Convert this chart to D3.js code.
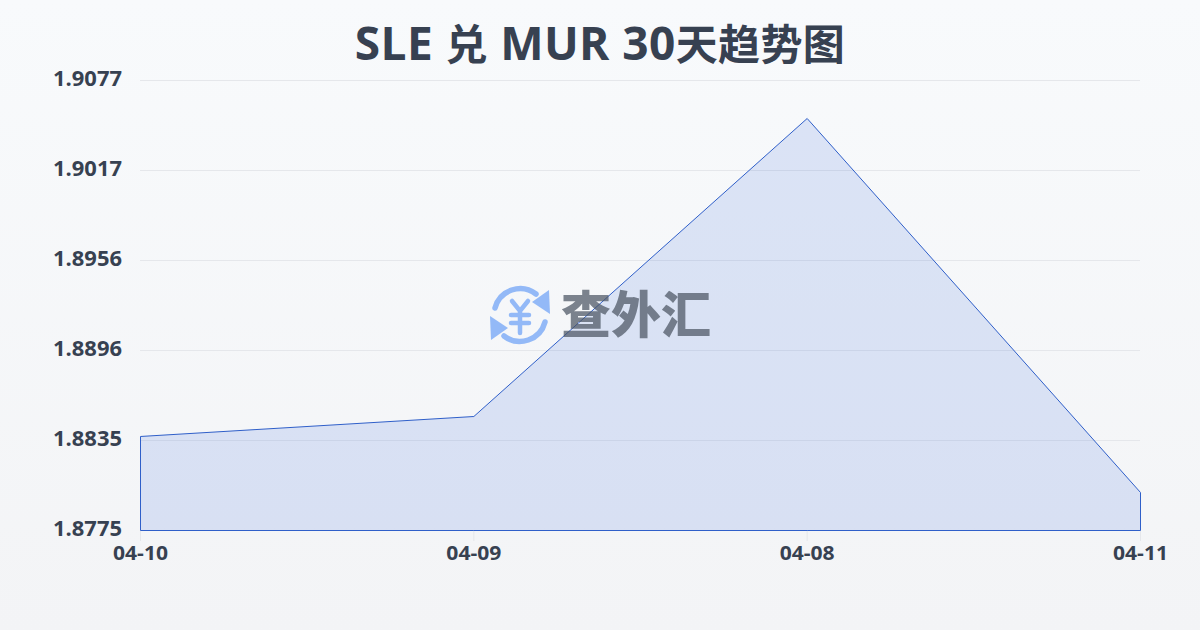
<!DOCTYPE html>
<html><head><meta charset="utf-8">
<script src="https://cdn.jsdelivr.net/npm/d3@7/dist/d3.min.js"></script>
<style>html,body{margin:0;padding:0;width:1200px;height:630px;overflow:hidden}</style>
</head><body><div id="chart"></div>
<script>
const titleParts = [["SLE ",46],["兑",42],[" MUR 30",46],["天趋势图",42]];
const categories = ["04-10","04-09","04-08","04-11"];
const values = [1.88381,1.88515,1.90515,1.88005];
const yTicks = [1.8775,1.8835,1.8896,1.8956,1.9017,1.9077];
const yTickLevels = [1.8775,1.88354,1.88958,1.89562,1.90166,1.9077];
const FONT = '"Open Sans","Noto Sans CJK SC",sans-serif';
const svg = d3.select("#chart").append("svg").attr("width",1200).attr("height",630).style("display","block");
const defs = svg.append("defs");
const bg = defs.append("linearGradient").attr("id","bg").attr("x1",0).attr("y1",0).attr("x2",0).attr("y2",1);
bg.append("stop").attr("offset",0).attr("stop-color","#f8fafc");
bg.append("stop").attr("offset",1).attr("stop-color","#f3f4f6");
svg.append("rect").attr("width",1200).attr("height",630).attr("fill","url(#bg)");
const x = d3.scalePoint().domain(categories).range([140.5,1140.5]);
const y = d3.scaleLinear().domain([1.8775,1.9077]).range([530.5,80.5]);
const title = svg.append("text").attr("x",600).attr("y",60).attr("text-anchor","middle")
  .attr("font-family",FONT).attr("font-weight",700).attr("fill","#374151").attr("letter-spacing",0.4).style("white-space","pre");
title.selectAll("tspan").data(titleParts).join("tspan").attr("font-size",d=>d[1]).text(d=>d[0]);
svg.append("g").selectAll("line").data(yTickLevels).join("line")
  .attr("x1",140).attr("x2",1140).attr("y1",d=>Math.round(y(d)-.5)+.5).attr("y2",d=>Math.round(y(d)-.5)+.5)
  .attr("stroke","#e5e7eb").attr("stroke-width",1);
const area = d3.area().x((d,i)=>x(categories[i])).y0(y(1.8775)).y1(d=>y(d));
svg.append("path").datum(values).attr("d",area).attr("fill","#1f55dc").attr("fill-opacity",0.13)
  .attr("stroke","#2f5fc9").attr("stroke-width",1);
svg.append("g").selectAll("text").data(yTicks).join("text")
  .attr("x",122).attr("y",(d,i)=>y(yTickLevels[i])+5.5).attr("text-anchor","end")
  .attr("font-family",FONT).attr("font-weight",700).attr("font-size",21.5).attr("fill","#374151")
  .attr("textLength",69).attr("lengthAdjust","spacingAndGlyphs").text(d=>d3.format(".4f")(d));
const xg = svg.append("g");
xg.selectAll("line").data(categories).join("line").attr("x1",d=>x(d)).attr("x2",d=>x(d)).attr("y1",531).attr("y2",541).attr("stroke","#e5e7eb");
xg.selectAll("text").data(categories).join("text").attr("x",d=>x(d)).attr("y",560).attr("text-anchor","middle")
  .attr("font-family",FONT).attr("font-weight",700).attr("font-size",19).attr("fill","#374151")
  .attr("textLength",55).attr("lengthAdjust","spacingAndGlyphs").text(d=>d);
// watermark
const wm = svg.append("g");
const logo = wm.append("g").attr("transform","translate(520,315)").attr("fill","none").attr("stroke","#93b9f7").attr("stroke-linecap","round");
logo.append("path").attr("stroke-width",5.5).attr("d","M-25,-7 A26,26 0 0 1 16,-21");
logo.append("path").attr("stroke-width",5.5).attr("d","M25,7 A26,26 0 0 1 -16,21");
logo.append("path").attr("fill","#93b9f7").attr("stroke","none").attr("d","M12,-13 L29,-25 L30,-1 Z");
logo.append("path").attr("fill","#93b9f7").attr("stroke","none").attr("d","M-12,13 L-29,25 L-30,1 Z");
logo.append("path").attr("stroke-width",4.5).attr("d","M-8,-14 L0,-4 L8,-14 M0,-4 V18 M-9,0 H9 M-9,8 H9");
wm.append("text").attr("x",636).attr("y",333).attr("text-anchor","middle").attr("font-family",'"Noto Sans CJK SC",sans-serif')
  .attr("font-weight",900).attr("font-size",50).attr("fill","#4b5563").attr("fill-opacity",0.72).text("查外汇");
</script></body></html>
